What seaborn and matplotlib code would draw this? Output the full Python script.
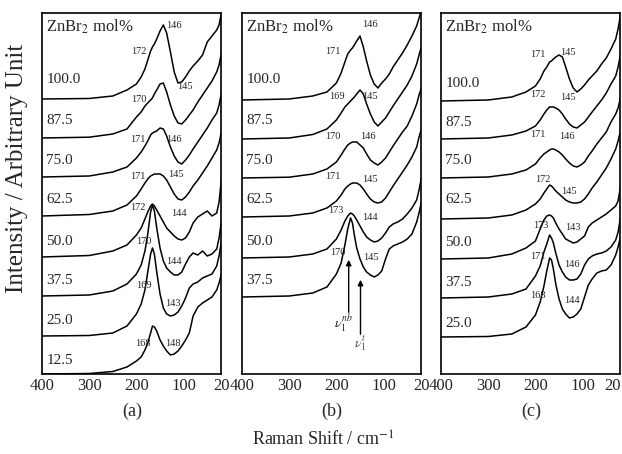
import numpy as np
import pandas as pd
import matplotlib
matplotlib.use("Agg")
import matplotlib.pyplot as plt
import seaborn as sns

# Raman shift grid (cm-1) shared by every spectrum
shift = [400, 300, 250, 220, 200, 190, 182, 176, 170, 166, 162, 157, 150, 143, 136,
         128, 120, 112, 104, 96, 88, 80, 70, 60, 50, 40, 30, 25, 20]

# panel (a): intensity above each trace's own baseline, arbitrary units
conc_a = ["12.5", "25.0", "37.5", "50.0", "62.5", "75.0", "87.5", "100.0"]
offset_a = [0, 38, 78, 117, 158, 197, 236, 275]
a_125 = [0, 0.5, 2.5, 7, 13, 17, 24, 31, 41, 48, 47, 43, 34, 28, 23, 19, 20, 23, 28, 34, 41, 58, 67, 71, 74, 77, 84, 91, 100]
a_250 = [0, 0.5, 3, 10, 22, 32, 46, 64, 82, 88, 82, 64, 42, 28, 22, 20, 21, 24, 30, 38, 48, 52, 54, 58, 60, 62, 70, 80, 95]
a_375 = [0, 1, 5, 12, 22, 31, 45, 62, 84, 91, 85, 68, 48, 35, 28, 24, 21, 21, 24, 32, 39, 43, 41, 45, 40, 42, 47, 58, 75]
a_500 = [0, 1.5, 6, 12, 22, 29, 38, 45, 51, 53, 51, 47, 41, 35, 29, 25, 21, 18, 17, 19, 25, 34, 40, 43, 46, 41, 44, 55, 78]
a_625 = [0, 1.5, 5, 11, 20, 27, 33, 37, 40, 41, 42, 42, 42, 40, 36, 29, 22, 17, 16, 19, 24, 30, 36, 43, 50, 58, 66, 73, 84]
a_750 = [0, 1, 5, 10, 19, 25, 31, 36, 42, 44, 45, 46, 49, 48, 41, 30, 21, 15, 13, 17, 22, 28, 35, 42, 49, 57, 64, 72, 84]
a_875 = [0, 0.8, 4, 9, 21, 26, 32, 35, 38, 40, 44, 48, 54, 55, 46, 33, 22, 15, 14, 18, 23, 28, 36, 43, 50, 57, 66, 73, 85]
a_100 = [0, 0.5, 3, 9, 15, 22, 30, 39, 48, 52, 55, 60, 68, 74, 66, 47, 27, 16, 17, 22, 28, 33, 38, 44, 57, 63, 69, 74, 86]

# panel (b)
conc_b = ["37.5", "50.0", "62.5", "75.0", "87.5", "100.0"]
offset_b = [77, 116, 157, 196, 235, 274]
b_375 = [0, 1, 4, 10, 23, 34, 52, 68, 79, 74, 62, 49, 38, 30, 25, 22, 20, 22, 26, 38, 48, 51, 53, 55, 58, 63, 75, 84, 95]
b_500 = [0, 1, 4, 9, 19, 28, 37, 42, 45, 44, 42, 38, 32, 26, 21, 18, 16, 17, 20, 25, 31, 34, 36, 39, 44, 50, 58, 68, 80]
b_625 = [0, 1, 4, 9, 16, 22, 28, 31, 33, 34, 34, 34, 32, 28, 23, 18, 15, 14, 15, 19, 25, 31, 38, 45, 52, 60, 70, 80, 88]
b_750 = [0, 0.8, 4, 9, 16, 23, 29, 33, 35, 36, 36, 36, 33, 30, 24, 18, 15, 13, 16, 20, 26, 32, 39, 46, 52, 62, 74, 83, 90]
b_875 = [0, 1, 4.5, 10, 19, 26, 32, 35, 38, 40, 42, 45, 49, 45, 35, 25, 17, 13, 17, 21, 27, 33, 40, 47, 54, 63, 75, 84, 92]
b_100 = [0, 1, 4, 8, 17, 27, 38, 46, 50, 52, 55, 59, 64, 53, 39, 25, 16, 12, 17, 21, 26, 33, 40, 47, 55, 64, 74, 82, 90]

# panel (c)
conc_c = ["25.0", "37.5", "50.0", "62.5", "75.0", "87.5", "100.0"]
offset_c = [37, 76, 115, 155, 196, 235, 273]
c_250 = [0, 0.5, 3, 10, 22, 35, 51, 66, 79, 77, 68, 53, 38, 28, 23, 19, 20, 23, 28, 40, 52, 58, 64, 66, 67, 72, 82, 90, 100]
c_375 = [0, 1, 4, 9, 22, 32, 46, 54, 63, 60, 55, 45, 33, 26, 21, 18, 18, 19, 24, 33, 39, 42, 44, 45, 47, 51, 58, 66, 80]
c_500 = [0, 1, 5, 11, 18, 30, 39, 43, 44, 43, 41, 36, 30, 25, 20, 18, 16, 17, 20, 23, 32, 36, 39, 42, 45, 49, 53, 58, 72]
c_625 = [0, 1, 4, 9, 15, 20, 26, 30, 34, 33, 31, 28, 25, 22, 19, 17, 16, 16, 17, 20, 25, 31, 37, 44, 51, 60, 70, 78, 88]
c_750 = [0, 1, 4, 8, 14, 20, 24, 26, 28, 29, 29, 28, 26, 23, 19, 15, 12, 11, 13, 16, 22, 27, 34, 40, 46, 56, 64, 70, 80]
c_875 = [0, 1, 4, 8, 13, 19, 25, 29, 32, 32, 32, 31, 29, 25, 20, 15, 12, 11, 14, 17, 22, 27, 33, 39, 46, 55, 63, 72, 84]
c_100 = [0, 1, 4, 9, 15, 22, 30, 34, 39, 40, 42, 44, 46, 44, 34, 22, 13, 9, 12, 16, 21, 25, 30, 37, 43, 52, 62, 72, 86]

# peak labels: (text, shift, height)
peaks_a = [("146", 120, 348), ("172", 195, 322), ("145", 98, 287), ("170", 194, 274),
           ("171", 197, 234), ("146", 120, 234), ("171", 197, 197), ("145", 116, 199),
           ("172", 197, 166), ("144", 109, 160), ("170", 184, 132), ("144", 120, 112),
           ("169", 184, 89), ("143", 122, 71), ("168", 186, 31), ("148", 122, 31)]
peaks_b = [("146", 130, 349), ("171", 208, 322), ("169", 199, 277), ("145", 130, 277),
           ("170", 208, 237), ("146", 134, 237), ("171", 208, 197), ("145", 130, 194),
           ("173", 202, 163), ("144", 130, 156), ("170", 197, 121), ("145", 126, 116)]
peaks_c = [("171", 195, 319), ("145", 132, 321), ("172", 195, 279), ("145", 132, 276),
           ("171", 195, 239), ("146", 134, 237), ("172", 185, 194), ("145", 128, 182),
           ("173", 189, 148), ("143", 121, 146), ("171", 195, 117), ("146", 123, 109),
           ("168", 195, 79), ("144", 123, 74)]

label_y_a = [14, 54, 93, 132, 174, 213, 253, 294]
label_y_b = [93, 132, 174, 213, 253, 294]
label_y_c = [51, 91, 131, 174, 213, 251, 290]

sns.set_style("white")
plt.rcParams["font.family"] = ["Liberation Serif", "DejaVu Serif"]
plt.rcParams["mathtext.fontset"] = "stix"


def make_frame(conc, offsets, traces):
    rows = []
    for c, off, tr in zip(conc, offsets, traces):
        for s, v in zip(shift, tr):
            rows.append({"conc": c, "shift": s, "intensity": off + v})
    return pd.DataFrame(rows)


df_a = make_frame(conc_a, offset_a, [a_125, a_250, a_375, a_500, a_625, a_750, a_875, a_100])
df_b = make_frame(conc_b, offset_b, [b_375, b_500, b_625, b_750, b_875, b_100])
df_c = make_frame(conc_c, offset_c, [c_250, c_375, c_500, c_625, c_750, c_875, c_100])

fig = plt.figure(figsize=(6.22, 4.54), dpi=100)
lefts = [0.0675, 0.389, 0.709]
panels = [(df_a, conc_a, label_y_a, peaks_a, "(a)"),
          (df_b, conc_b, label_y_b, peaks_b, "(b)"),
          (df_c, conc_c, label_y_c, peaks_c, "(c)")]

for left, (df, conc, ly, peaks, tag) in zip(lefts, panels):
    ax = fig.add_axes([left, 0.1762, 0.2885, 0.7952])
    sns.lineplot(data=df, x="shift", y="intensity", units="conc", estimator=None,
                 sort=False, color="black", linewidth=1.1, ax=ax, legend=False)
    ax.set_xlim(400, 20)
    ax.set_ylim(0, 361)
    ax.set_xticks([400, 300, 200, 100, 20])
    ax.set_yticks([])
    ax.set_xlabel("")
    ax.set_ylabel("")
    ax.tick_params(axis="x", direction="in", length=4, width=1, labelsize=12, pad=3)
    if tag == "(c)":
        ax.get_xticklabels()[-1].set_horizontalalignment("right")
    for sp in ax.spines.values():
        sp.set_linewidth(1.2)
        sp.set_color("black")
    ax.text(392, 347, "ZnBr$_2$ mol%", fontsize=12, ha="left", va="center")
    for c, y in zip(conc, ly):
        ax.text(391, y, c, fontsize=11, ha="left", va="center")
    for t, x, y in peaks:
        ax.text(x, y, t, fontsize=7.5, ha="center", va="center")
    fig.text(left + 0.1445, 0.095, tag, fontsize=13, ha="center", va="center")
    if tag == "(b)":
        ax.annotate("", xy=(174, 117), xytext=(174, 59),
                    arrowprops=dict(arrowstyle="-|>", color="black", lw=1.0, mutation_scale=8))
        ax.annotate("", xy=(149, 97), xytext=(149, 37),
                    arrowprops=dict(arrowstyle="-|>", color="black", lw=1.0, mutation_scale=8))
        ax.text(184, 50, r"$\nu_1^{nb}$", fontsize=10, ha="center", va="center")
        ax.text(149, 30, r"$\nu_1^{t}$", fontsize=10, ha="center", va="center", color="#555555")

fig.text(0.519, 0.031, "Raman Shift / cm$^{-1}$", fontsize=13, ha="center", va="center")
fig.text(0.028, 0.63, "Intensity / Arbitrary Unit", fontsize=18, rotation=90,
         ha="center", va="center")

fig.savefig("out.png", dpi=100)
